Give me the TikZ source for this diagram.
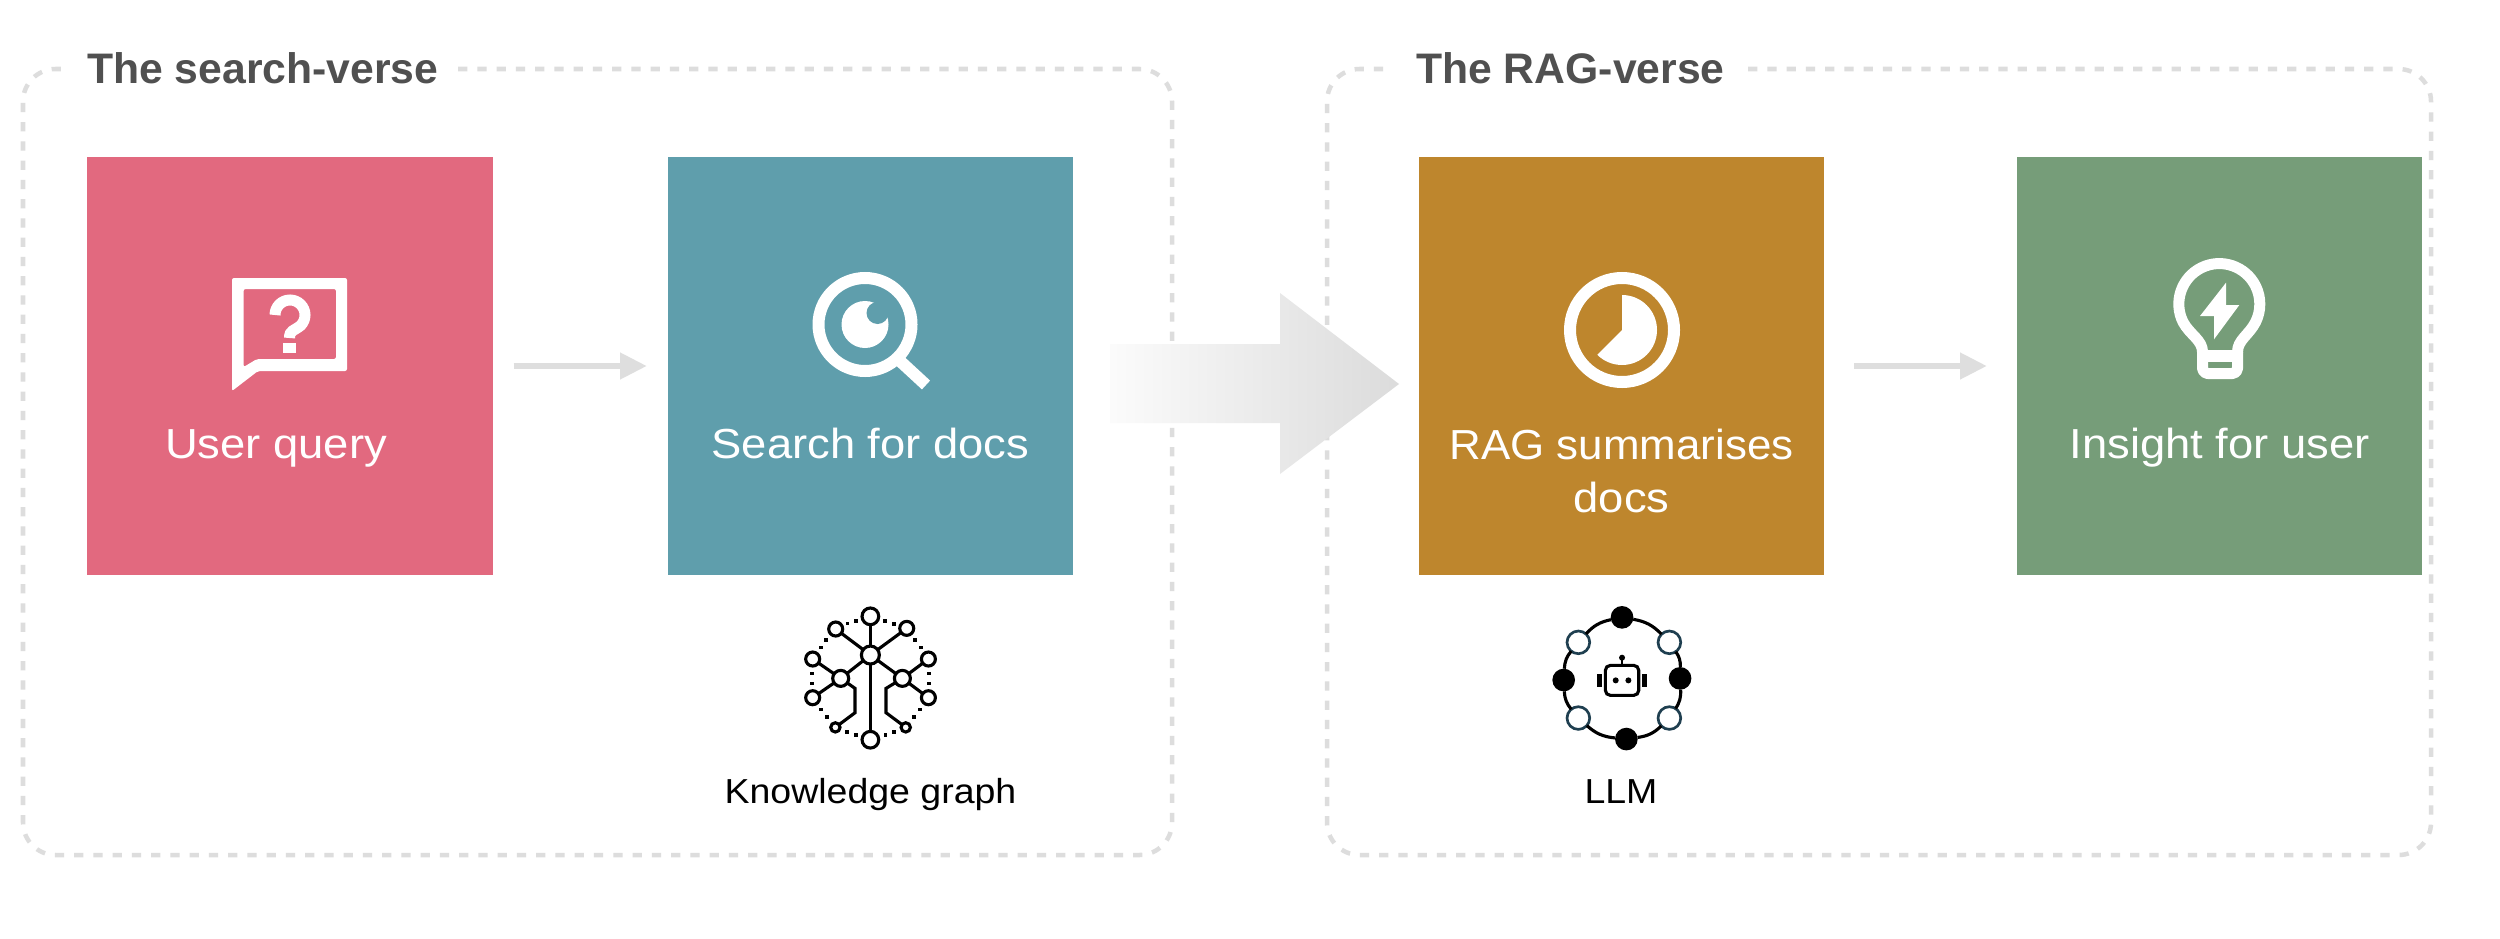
\documentclass[tikz,border=0pt]{standalone}
\usepackage{fontspec}
\setmainfont[FakeStretch=1.08]{Liberation Sans}
\newfontfamily\titlefont{Liberation Sans}
\usetikzlibrary{arrows.meta}
\definecolor{cpink}{HTML}{E2697F}
\definecolor{cteal}{HTML}{5F9EAC}
\definecolor{cgold}{HTML}{BE862D}
\definecolor{cgreen}{HTML}{769D79}
\definecolor{cline}{HTML}{DEDEDE}
\definecolor{cframe}{HTML}{DDDDDD}
\definecolor{ctitle}{HTML}{505050}
\definecolor{cring}{HTML}{1F3F50}
\tikzset{
  card/.style={minimum width=16.2cm,minimum height=16.72cm,inner sep=0pt,outer sep=0pt},
  frameline/.style={draw=cframe,line width=0.18cm,dash pattern=on 0.37cm off 0.40cm,rounded corners=1.3cm},
  flow/.style={draw=cline,line width=0.26cm,-{Triangle[length=1.07cm,width=1.0cm]}},
  cardtext/.style={text=white,align=center,anchor=base,inner sep=0pt,font=\fontsize{47.8}{60.3}\selectfont},
  titletext/.style={text=ctitle,anchor=base west,inner sep=0pt,font=\titlefont\fontsize{48.6}{57}\selectfont\bfseries},
  captext/.style={text=black,anchor=base,inner sep=0pt,font=\fontsize{39.5}{47}\selectfont},
  kgdot/.style={circle,draw=black,line width=0.125cm,inner sep=0pt,outer sep=0pt,fill=white},
  kgline/.style={draw=black,line width=0.125cm},
  llmfull/.style={circle,fill=black,inner sep=0pt,outer sep=0pt,minimum size=0.907cm},
  llmhollow/.style={circle,draw=cring,line width=0.107cm,fill=white,inner sep=0pt,outer sep=0pt,minimum size=0.907cm},
  icon/.style={draw=white,line width=0.46cm}
}
\begin{document}
\begin{tikzpicture}[x=0.04cm,y=-0.04cm]
\useasboundingbox (0,0) rectangle (2500,938);
\fill[white] (0,0) rectangle (2500,938);
% frames
\draw[frameline] (458,69) -- (1172,69) -- (1172,855) -- (23,855) -- (23,69) -- (63,69);
\draw[frameline] (1748,69) -- (2431,69) -- (2431,855) -- (1327,855) -- (1327,69) -- (1385,69);
\node[titletext] (t1) at (87,83) {The search-verse};
\node[titletext] (t2) at (1416,83) {The RAG-verse};
% big arrow
\shade[left color=black!1.5,right color=black!14] (1110,344) -- (1280,344) -- (1280,293) -- (1399,384) -- (1280,474) -- (1280,423) -- (1110,423) -- cycle;
% cards
\node[card,fill=cpink] (a) at (290,366) {};
\node[card,fill=cteal] (b) at (870.5,366) {};
\node[card,fill=cgold] (c) at (1621.5,366) {};
\node[card,fill=cgreen] (d) at (2219.5,366) {};
\draw[flow,shorten <=0.84cm,shorten >=0.84cm] (a) -- (b);
\draw[flow,shorten <=1.2cm,shorten >=1.2cm] (c) -- (d);
% card texts
\node[cardtext] (ta) at (276,458) {User query};
\node[cardtext] (tb) at (870.5,458) {Search for docs};
\node[cardtext] (tc) at (1621.5,512) {\addfontfeature{FakeStretch=1.045}RAG summarises\\docs};
\node[cardtext] (td) at (2219.5,458) {Insight for user};
% captions
\node[captext] (kg) at (870.5,803) {Knowledge graph};
\node[captext] (llm) at (1621,803) {LLM};
% chat icon
\fill[white,even odd rule,rounded corners=0.08cm] (232,278) -- (347,278) -- (347,371) -- (258,371) -- (232,391) -- cycle
  (243.6,289) -- (243.6,367) -- (257,359) -- (336,359) -- (336,289) -- cycle;
\draw[white,line width=0.44cm] (275,315) arc[start angle=180,end angle=405,radius=15] .. controls (294,331) and (289.5,330) .. (289.5,338);
\fill[white] (283.4,343) rectangle (295.5,353);
% magnifier icon
\draw[icon,line width=0.48cm] (865,324.5) circle[radius=46.5];
\draw[white,line width=0.48cm] (900,361) -- (926,385);
\fill[white] (865,324.5) circle[radius=23.5];
\fill[cteal] (877.5,313) circle[radius=11];
% pie icon
\draw[icon,line width=0.48cm] (1622,330) circle[radius=52];
\fill[white] (1622,330) -- (1622,295) arc[start angle=-90,end angle=135,radius=35] -- cycle;
% bulb icon
\draw[icon,line width=0.44cm,line join=round] (2202.5,352) .. controls (2202.5,340) and (2190,335) .. (2183,322) arc[start angle=153.7,end angle=386.3,radius=40.5] .. controls (2249,335) and (2237.5,340) .. (2237.5,352);
\draw[icon,line width=0.44cm,line join=round,rounded corners=0.2cm] (2202.5,352) -- (2202.5,373.5) -- (2237.5,373.5) -- (2237.5,352);
\fill[white] (2197,350) rectangle (2243,362);
\fill[white] (2226,282.7) -- (2200,316) -- (2214,316) -- (2214,339.3) -- (2239.3,305) -- (2226,305) -- cycle;
% knowledge graph icon
\begin{scope}[shift={(760,590)},x=0.013333cm,y=-0.013333cm]
\node[kgdot,minimum size=0.667cm] (k1) at (331,79) {};
\node[kgdot,minimum size=0.72cm] (k2) at (331,195) {};
\node[kgdot,minimum size=0.56cm] (k3) at (227,117) {};
\node[kgdot,minimum size=0.56cm] (k4) at (440,115) {};
\node[kgdot,minimum size=0.64cm] (k5) at (242,265) {};
\node[kgdot,minimum size=0.64cm] (k6) at (427,265) {};
\node[kgdot,minimum size=0.56cm] (k7) at (158,207) {};
\node[kgdot,minimum size=0.56cm] (k8) at (505,207) {};
\node[kgdot,minimum size=0.56cm] (k9) at (158,323) {};
\node[kgdot,minimum size=0.56cm] (k10) at (505,323) {};
\node[kgdot,minimum size=0.373cm] (k11) at (226,412) {};
\node[kgdot,minimum size=0.373cm] (k12) at (437,412) {};
\node[kgdot,minimum size=0.667cm] (k13) at (331,449) {};
\draw[kgline] (k2) -- (k1);
\draw[kgline] (k2) -- (k3);
\draw[kgline] (k2) -- (k4);
\draw[kgline] (k2) -- (k5);
\draw[kgline] (k2) -- (k6);
\draw[kgline] (k2) -- (k13);
\draw[kgline] (k5) -- (k7);
\draw[kgline] (k5) -- (k9);
\draw[kgline] (k6) -- (k8);
\draw[kgline] (k6) -- (k10);
\draw[kgline] (k5) -- (285,295) -- (285,368) -- (k11);
\draw[kgline] (k6) -- (378,295) -- (378,368) -- (k12);
\foreach \px/\py in {262/100,288/93,375/93,402/102,465/150,482/172,506/250,506/280,480/358,462/380,402/425,376/435,288/435,261/425,200/380,183/358,155/250,155/280,182/172,198/150}{
  \fill[black] (\px-5.5,\py-5.5) rectangle (\px+5.5,\py+5.5);
}
\end{scope}
% LLM icon
\begin{scope}[shift={(1530,590)},x=0.013333cm,y=-0.013333cm]
\node[llmfull] (m1) at (276,82) {};
\node[llmhollow] (m2) at (418,157) {};
\node[llmfull] (m3) at (450,265) {};
\node[llmhollow] (m4) at (418,384) {};
\node[llmfull] (m5) at (289,447) {};
\node[llmhollow] (m6) at (145,384) {};
\node[llmfull] (m7) at (101,270) {};
\node[llmhollow] (m8) at (145,157) {};
\foreach \s/\e in {m1/m2,m2/m3,m3/m4,m4/m5,m5/m6,m6/m7,m7/m8,m8/m1}{
  \draw[kgline] (\s) to[bend left=18] (\e);
}
\draw[black,line width=0.125cm,rounded corners=0.2cm] (226,226) rectangle (326,316);
\fill[black] (257,271) circle[radius=9];
\fill[black] (295,271) circle[radius=9];
\draw[black,line width=0.107cm] (276,222) -- (276,205);
\fill[black] (276,203) circle[radius=9];
\fill[black] (202,252) rectangle (215,290);
\fill[black] (337,252) rectangle (350,290);
\end{scope}
\end{tikzpicture}
\end{document}
